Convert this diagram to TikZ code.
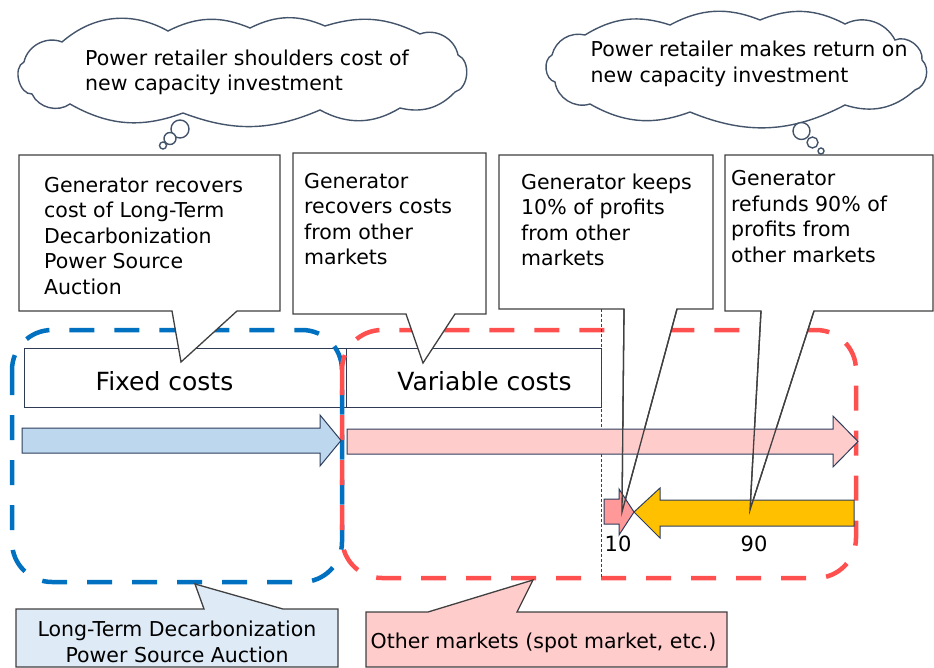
\documentclass[tikz,border=0pt]{standalone}
\usepackage{fontspec}
\setmainfont{DejaVu Sans}

\definecolor{cloudline}{HTML}{44546A}
\definecolor{calloutline}{HTML}{404040}
\definecolor{boxline}{HTML}{2F3B55}
\definecolor{arrowline}{HTML}{2E3E5C}
\definecolor{auctionblue}{HTML}{0070C0}
\definecolor{marketred}{HTML}{FF5050}
\definecolor{fixedfill}{HTML}{BDD7EE}
\definecolor{variablefill}{HTML}{FFCCCC}
\definecolor{keepfill}{HTML}{FF9999}
\definecolor{refundfill}{HTML}{FFC000}
\definecolor{auctionfill}{HTML}{DEEBF7}

\tikzset{
  txt/.style={inner sep=0pt, align=left, font=\fontsize{20.5bp}{25.5bp}\selectfont},
  bigtxt/.style={inner sep=0pt, font=\fontsize{25bp}{30bp}\selectfont},
  thought/.style={draw=cloudline, line width=1.4bp, fill=white},
  bubble/.style={circle, draw=cloudline, line width=1.4bp, fill=white, inner sep=0pt},
  costbox/.style={draw=boxline, line width=0.9bp, fill=white, inner sep=0pt,
    minimum height=59bp},
  calloutshape/.style={draw=calloutline, line width=1.3bp, fill=white, line join=miter},
  pointerline/.style={draw=calloutline, line width=1.3bp},
  region/.style={line width=4.5bp, dash pattern=on 25bp off 20bp, rounded corners=40bp},
  flow/.style={draw=arrowline, line width=1bp, line join=miter},
}

\begin{document}
\begin{tikzpicture}[x=1bp, y=-1bp]
\useasboundingbox (0,0) rectangle (934,668);

% cost category boxes
\node[costbox, minimum width=322bp] (fixed) at (185,377.5) {};
\node[costbox, minimum width=255bp] (variable) at (473.5,377.5) {};
\node[bigtxt, anchor=base] (fixedlabel) at (164.5,390.7) {Fixed costs};
\node[bigtxt, anchor=base] (variablelabel) at (484.5,390.7) {Variable costs};

% dashed regions: auction (blue) and other markets (red)
\draw[region, draw=auctionblue] (12,330) rectangle (342,582);
\draw[region, draw=marketred] (342,330) rectangle (856,578);

% thought cloud on the left, built from puffs
\draw[thought] (32,94) to[bend left=80] (24,62) to[bend left=50] (62,42)
  to[bend left=35] (168,31) to[bend left=25] (250,28) to[bend left=25] (325,26)
  to[bend left=22] (420,34) to[bend left=50] (458,55) to[bend left=70] (455,92)
  to[bend left=30] (400,108) to[bend left=30] (320,110) to[bend left=22] (183,113)
  to[bend left=25] (70,104) to[bend left=50] (32,94) -- cycle;
\node[txt, anchor=base west] (cloudLtext) at (85,90.7)
  {Power retailer shoulders cost of\\new capacity investment};
\node[bubble, minimum size=18bp] (bubL1) at (180,129) {};
\node[bubble, minimum size=12bp] (bubL2) at (170,138.5) {};
\node[bubble, minimum size=7bp] (bubL3) at (163,145.5) {};

% thought cloud on the right
\draw[thought] (555,82) to[bend left=70] (552,55) to[bend left=45] (585,35)
  to[bend left=25] (670,25) to[bend left=25] (760,20) to[bend left=25] (845,24)
  to[bend left=45] (895,40) to[bend left=60] (922,60) to[bend left=60] (915,90)
  to[bend left=30] (845,105) to[bend left=25] (690,112) to[bend left=25] (590,104)
  to[bend left=50] (555,82) -- cycle;
\node[txt, anchor=base west] (cloudRtext) at (590.5,82.3)
  {Power retailer makes return on\\new capacity investment};
\node[bubble, minimum size=17bp] (bubR1) at (801.5,131) {};
\node[bubble, minimum size=11bp] (bubR2) at (812.5,142.5) {};
\node[bubble, minimum size=6bp] (bubR3) at (821,151) {};

% speech callouts (box corners and pointer tips)
\coordinate (tipA) at (181,362);
\coordinate (tipB) at (423,363);
\coordinate (tipC) at (622,512);
\coordinate (tipD) at (750,510);
\coordinate (tipE) at (195,584);
\coordinate (tipF) at (533,580);

\draw[calloutshape] (19,155) -- (280,155) -- (280,311) -- (237,311) -- (tipA)
  -- (172,311) -- (19,311) -- cycle;
\draw[calloutshape] (293,153) -- (486,153) -- (486,314) -- (455,314) -- (tipB)
  -- (406,314) -- (293,314) -- cycle;
\draw[calloutshape] (499,155) -- (713,155) -- (713,309) -- (677,309) -- (tipC)
  -- (624,309) -- (499,309) -- cycle;
\draw[calloutshape] (725,155) -- (933,155) -- (933,311) -- (814,311) -- (tipD)
  -- (761,311) -- (725,311) -- cycle;

% multi-line texts are placed by the baseline of their last line
\node[txt, anchor=base west] (noteA) at (44,294)
  {Generator recovers\\cost of Long-Term\\Decarbonization\\Power Source\\Auction};
\node[txt, anchor=base west] (noteB) at (304,264.5)
  {Generator\\recovers costs\\from other\\markets};
\node[txt, anchor=base west] (noteC) at (521,265.5)
  {Generator keeps\\10\% of profits\\from other\\markets};
\node[txt, anchor=base west] (noteD) at (731,262.2)
  {Generator\\refunds 90\% of\\profits from\\other markets};

% label callouts below the regions
\draw[calloutshape, fill=auctionfill] (16,609) -- (204,609) -- (tipE) -- (283,609)
  -- (338,609) -- (338,667) -- (16,667) -- cycle;
\node[txt, anchor=base, align=center] (auction) at (177,662.3)
  {Long-Term Decarbonization\\Power Source Auction};
\draw[calloutshape, fill=variablefill] (366,612) -- (428,612) -- (tipF) -- (517,612)
  -- (727,612) -- (727,667) -- (366,667) -- cycle;
\node[txt, anchor=base west] (markets) at (370.5,648)
  {Other markets (spot market, etc.)};

% boundary between variable costs and profits
\coordinate (splitTop) at (601,309);
\coordinate (splitBottom) at (601,577);
\draw[black!75, line width=0.9bp, dash pattern=on 3bp off 2bp] (splitTop) -- (splitBottom);

% money flows
\draw[flow, fill=fixedfill] (22,428) -- (320,428) -- (320,415) -- (341,440.5)
  -- (320,466) -- (320,453) -- (22,453) -- cycle;
\draw[flow, fill=variablefill] (347,429) -- (833,429) -- (833,416) -- (858,441.5)
  -- (833,467) -- (833,454) -- (347,454) -- cycle;
\draw[flow, fill=keepfill] (604,499) -- (619,499) -- (619,489) -- (634,512)
  -- (619,535) -- (619,524) -- (604,524) -- cycle;
\draw[flow, fill=refundfill] (634,512) -- (660,488) -- (660,500) -- (854,500)
  -- (854,526) -- (660,526) -- (660,538) -- cycle;

% pointers of the profit callouts stay visible over the flows
\draw[pointerline] (624,309) -- (tipC) -- (677,309);
\draw[pointerline] (761,311) -- (tipD) -- (814,311);

\node[txt, anchor=base, font=\fontsize{21bp}{25bp}\selectfont] (ten) at (618,551) {10};
\node[txt, anchor=base, font=\fontsize{21bp}{25bp}\selectfont] (ninety) at (754,551) {90};
\end{tikzpicture}
\end{document}
